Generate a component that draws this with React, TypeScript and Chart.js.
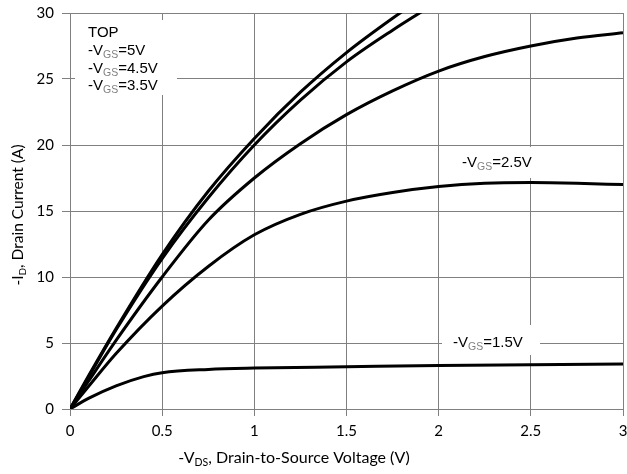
import React, { useEffect, useRef } from "react";
import { Chart, registerables } from "chart.js";

Chart.register(...registerables);

const vds5 = [0, 0.1, 0.25, 0.5, 0.75, 1, 1.25, 1.5, 1.75, 2];
const id5 = [0, 2.5, 6.1, 11.7, 16.5, 20.5, 24.0, 27.0, 29.6, 32.0];
const vds45 = [0, 0.1, 0.25, 0.5, 0.75, 1, 1.25, 1.5, 1.75, 2];
const id45 = [0, 2.4, 6.0, 11.4, 16.0, 20.0, 23.4, 26.3, 28.7, 30.9];
const vds35 = [0, 0.1, 0.25, 0.5, 0.75, 1, 1.25, 1.5, 1.75, 2, 2.25, 2.5, 2.75, 3];
const id35 = [0, 2.1, 5.2, 10.0, 14.3, 17.5, 20.1, 22.3, 24.1, 25.6, 26.7, 27.5, 28.1, 28.5];
const vds25 = [0, 0.1, 0.25, 0.5, 0.75, 1, 1.25, 1.5, 1.75, 2, 2.25, 2.5, 2.75, 3];
const id25 = [0, 1.7, 4.2, 7.8, 10.8, 13.2, 14.75, 15.75, 16.4, 16.85, 17.1, 17.15, 17.1, 17.0];
const vds15 = [0, 0.1, 0.25, 0.4, 0.5, 0.75, 1, 1.5, 2, 2.5, 3];
const id15 = [0, 0.8, 1.75, 2.45, 2.75, 3.0, 3.1, 3.2, 3.3, 3.35, 3.4];

const xTitle = [{ t: "-V" }, { t: "DS", sub: true }, { t: ", Drain-to-Source Voltage (V)" }];
const yTitle = [{ t: "-I" }, { t: "D", sub: true }, { t: ", Drain Current (A)" }];
const topLabel = "TOP";
const vgsLabels = ["5V", "4.5V", "3.5V"];
const label25 = "2.5V";
const label15 = "1.5V";

type Part = { t: string; sub?: boolean; color?: string };

const AXIS_FONT = "Lato, 'Open Sans', sans-serif";
const ANN_FONT = "'Liberation Sans', Arial, sans-serif";

function drawRich(
  ctx: CanvasRenderingContext2D,
  parts: Part[],
  x: number,
  y: number,
  size: number,
  subSize: number,
  family: string,
  align: "left" | "center",
  subColor: string
) {
  const widths = parts.map((p) => {
    ctx.font = `${p.sub ? subSize : size}px ${family}`;
    return ctx.measureText(p.t).width;
  });
  const total = widths.reduce((a, b) => a + b, 0);
  let cx = align === "center" ? x - total / 2 : x;
  ctx.textBaseline = "alphabetic";
  ctx.textAlign = "left";
  parts.forEach((p, i) => {
    ctx.font = `${p.sub ? subSize : size}px ${family}`;
    ctx.fillStyle = p.sub ? subColor : "#000";
    ctx.fillText(p.t, cx, p.sub ? y + size * 0.2 : y);
    cx += widths[i];
  });
}

function vgs(v: string): Part[] {
  return [{ t: "-V" }, { t: "GS", sub: true }, { t: "=" + v }];
}

const pts = (xs: number[], ys: number[]) => xs.map((x, i) => ({ x, y: ys[i] }));

export default function App() {
  const ref = useRef<HTMLCanvasElement>(null);
  useEffect(() => {
    if (!ref.current) return;
    const annot = {
      id: "annot",
      beforeDatasetsDraw(chart: any) {
        const ctx: CanvasRenderingContext2D = chart.ctx;
        ctx.save();
        ctx.fillStyle = "#fff";
        ctx.fillRect(75, 20, 102, 75);
        ctx.fillRect(455, 147, 88, 31);
        ctx.fillRect(442, 325, 98, 30);
        ctx.fillStyle = "#000";
        ctx.font = `15px ${ANN_FONT}`;
        ctx.textAlign = "left";
        ctx.textBaseline = "alphabetic";
        ctx.fillText(topLabel, 88, 37);
        vgsLabels.forEach((v, i) => {
          drawRich(ctx, vgs(v), 88, 55 + i * 17.6, 15, 10.5, ANN_FONT, "left", "#808080");
        });
        drawRich(ctx, vgs(label25), 462, 167, 15, 10.5, ANN_FONT, "left", "#808080");
        drawRich(ctx, vgs(label15), 453, 347, 15, 10.5, ANN_FONT, "left", "#808080");
        ctx.restore();
      },
      afterDraw(chart: any) {
        const ctx: CanvasRenderingContext2D = chart.ctx;
        ctx.save();
        drawRich(ctx, xTitle as Part[], 294, 463, 16, 10.5, AXIS_FONT, "center", "#000");
        ctx.translate(23, 215);
        ctx.rotate(-Math.PI / 2);
        drawRich(ctx, yTitle as Part[], 0, 0, 15.5, 10, AXIS_FONT, "center", "#000");
        ctx.restore();
      },
    };
    const ds = (xs: number[], ys: number[]) => ({
      data: pts(xs, ys),
      borderColor: "#000",
      borderWidth: 3,
      pointRadius: 0,
      cubicInterpolationMode: "monotone" as const,
      fill: false,
      clip: 0,
    });
    const gridColor = "#808080";
    const chart = new Chart(ref.current, {
      type: "line",
      data: {
        datasets: [
          ds(vds5, id5),
          ds(vds45, id45),
          ds(vds35, id35),
          ds(vds25, id25),
          ds(vds15, id15),
        ],
      },
      options: {
        responsive: false,
        animation: false,
        layout: { padding: { top: 13, right: 4, left: 0, bottom: 0 } },
        plugins: { legend: { display: false }, tooltip: { enabled: false } },
        scales: {
          x: {
            type: "linear",
            min: 0,
            max: 3,
            ticks: {
              stepSize: 0.5,
              color: "#000",
              font: { family: AXIS_FONT, size: 15 },
              padding: 6,
              callback: (v: any) => String(Number(v)),
            },
            grid: { color: gridColor, lineWidth: 1, tickLength: 7 },
            border: { color: gridColor },
            afterFit(s: any) {
              s.height = 65;
              s.paddingLeft = 0;
              s.paddingRight = 0;
            },
          },
          y: {
            type: "linear",
            min: 0,
            max: 30,
            ticks: {
              stepSize: 5,
              color: "#000",
              font: { family: AXIS_FONT, size: 15 },
              padding: 8,
            },
            grid: { color: gridColor, lineWidth: 1, tickLength: 8 },
            border: { color: gridColor },
            afterFit(s: any) {
              s.width = 70;
              s.paddingTop = 0;
              s.paddingBottom = 0;
            },
          },
        },
      },
      plugins: [annot],
    });
    return () => chart.destroy();
  }, []);
  return (
    <div style={{ position: "absolute", left: 0, top: 0, width: 627, height: 474, background: "#fff" }}>
      <canvas ref={ref} width={627} height={474} style={{ display: "block", width: 627, height: 474 }} />
    </div>
  );
}
